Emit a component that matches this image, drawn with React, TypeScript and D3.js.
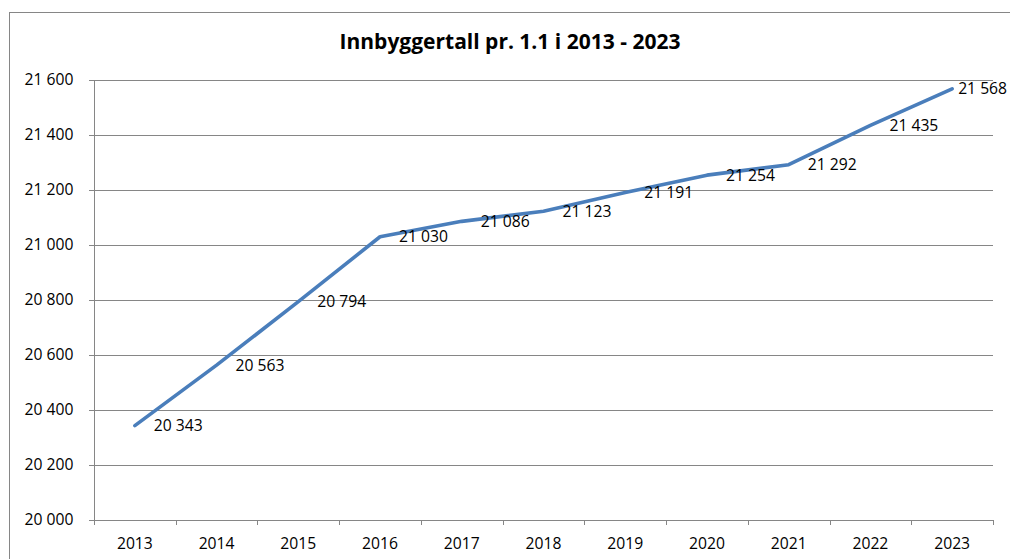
import React from "react";
import * as d3 from "d3";

const years: string[] = ["2013", "2014", "2015", "2016", "2017", "2018", "2019", "2020", "2021", "2022", "2023"];
const population: number[] = [20343, 20563, 20794, 21030, 21086, 21123, 21191, 21254, 21292, 21435, 21568];
const yTicks: number[] = [20000, 20200, 20400, 20600, 20800, 21000, 21200, 21400, 21600];
const title = "Innbyggertall pr. 1.1 i 2013 - 2023";

const W = 1010;
const H = 559;
const M = { left: 94, right: 993, top: 80, bottom: 520 };
const FONT = "'Open Sans', sans-serif";
const GRID = "#868686";
const LINE = "#4A7EBB";
const FS = 15.7;

const fmt = (v: number) => {
  const s = Math.round(v).toString();
  return s.length > 3 ? s.slice(0, s.length - 3) + " " + s.slice(-3) : s;
};

export default function App() {
  const x = d3.scaleBand<string>().domain(years).range([M.left, M.right]).padding(0);
  const y = d3.scaleLinear().domain([20000, 21600]).range([M.bottom, M.top]);
  const cx = (d: string) => (x(d) as number) + x.bandwidth() / 2;

  const line = d3
    .line<number>()
    .x((_, i) => cx(years[i]))
    .y((d) => y(d))
    .curve(d3.curveLinear);

  const boundaries = years.map((d) => x(d) as number).concat([M.right]);

  return (
    <svg
      width={W}
      height={H}
      style={{ position: "fixed", left: 0, top: 0, background: "#fff", display: "block" }}
      fontFamily={FONT}
    >
      <rect x={0} y={0} width={W} height={H} fill="#fff" />
      <rect x={9.5} y={12.5} width={W + 20} height={H + 20} fill="none" stroke={GRID} strokeWidth={1} />
      <text x={510} y={49} textAnchor="middle" fontSize={21} fontWeight={700} fill="#000">
        {title}
      </text>
      {yTicks.map((t) => (
        <g key={t}>
          <line x1={M.left - 5} x2={M.right} y1={Math.round(y(t)) + 0.5} y2={Math.round(y(t)) + 0.5} stroke={GRID} strokeWidth={1} />
          <text x={73.5} y={y(t)} dy="0.35em" textAnchor="end" fontSize={FS} fill="#000">
            {fmt(t)}
          </text>
        </g>
      ))}
      <line x1={M.left + 0.5} x2={M.left + 0.5} y1={M.top} y2={M.bottom + 0.5} stroke={GRID} strokeWidth={1} />
      {boundaries.map((b, i) => (
        <line key={i} x1={Math.round(b) + 0.5} x2={Math.round(b) + 0.5} y1={M.bottom} y2={M.bottom + 5} stroke={GRID} strokeWidth={1} />
      ))}
      {years.map((yr) => (
        <text key={yr} x={cx(yr)} y={549} textAnchor="middle" fontSize={FS} fill="#000">
          {yr}
        </text>
      ))}
      <path d={line(population) || ""} fill="none" stroke={LINE} strokeWidth={3.6} strokeLinejoin="round" strokeLinecap="round" />
      {population.map((v, i) => {
        const px = cx(years[i]);
        const last = i === population.length - 1;
        return (
          <text
            key={i}
            x={last ? px + 6 : px + 19}
            y={y(v)}
            dy="0.35em"
            textAnchor="start"
            fontSize={FS}
            fill="#000"
          >
            {fmt(v)}
          </text>
        );
      })}
    </svg>
  );
}
